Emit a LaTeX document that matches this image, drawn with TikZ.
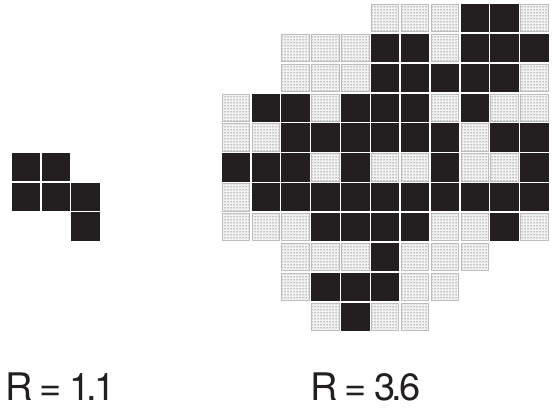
\documentclass[tikz,border=0pt]{standalone}
\usepackage{fontspec}
\setmainfont{TeX Gyre Heros}[LetterSpace=-9]
\usetikzlibrary{patterns.meta}
\definecolor{CellInk}{HTML}{231F20}
\definecolor{CellEdge}{HTML}{BDBDBD}
\newcommand{\pitch}{29.85}
\newcommand{\csize}{28.4}

\begin{document}
\begin{tikzpicture}[x=1pt,y=-1pt,
    blackcell/.style={fill=CellInk},
    dotcell/.style={draw=CellEdge, line width=0.9pt, preaction={fill=black!5},
      pattern={Dots[radius=0.5pt, distance=3pt]}, pattern color=black!85},
    rlabel/.style={font=\fontsize{38}{40}\selectfont, text=CellInk, anchor=base west, inner sep=0pt}]
  \useasboundingbox (0,0) rectangle (555,409);
  % small cluster
  \foreach \r/\blk in {0/{0,1}, 1/{0,1,2}, 2/{2}}
    \foreach \c in \blk
      \fill[blackcell] (11.7+\c*\pitch, 152.7+\r*\pitch) rectangle ++(\csize,\csize);
  % large cluster: row / black columns / dotted columns
  \foreach \r/\blk/\dts in {0/{8,9}/{5,6,7,10},
                            1/{5,6,8,9,10}/{2,3,4,7},
                            2/{5,6,7,8,9}/{2,3,4,10},
                            3/{1,2,4,5,6,8}/{0,3,7,9,10},
                            4/{2,3,4,5,6,7,9,10}/{0,1,8},
                            5/{0,1,2,4,7,10}/{3,5,6,8,9},
                            6/{1,2,3,4,5,6,7,8,9,10}/{0},
                            7/{3,4,5,6,9}/{0,1,2,7,8,10},
                            8/{5}/{2,3,4,6,7,8},
                            9/{3,4,5}/{2,6,7},
                            10/{4}/{3,5,6}}{
    \foreach \c in \blk
      \fill[blackcell] (221.7+\c*\pitch, 4+\r*\pitch) rectangle ++(\csize,\csize);
    \foreach \c in \dts
      \draw[dotcell] (222.2+\c*\pitch, 4.5+\r*\pitch) rectangle ++(\csize-1,\csize-1);
  }
  \node[rlabel] (rsmall) at (5,400.7) {R = 1.1};
  \node[rlabel] (rlarge) at (310,400.7) {R = 3.6};
\end{tikzpicture}
\end{document}
